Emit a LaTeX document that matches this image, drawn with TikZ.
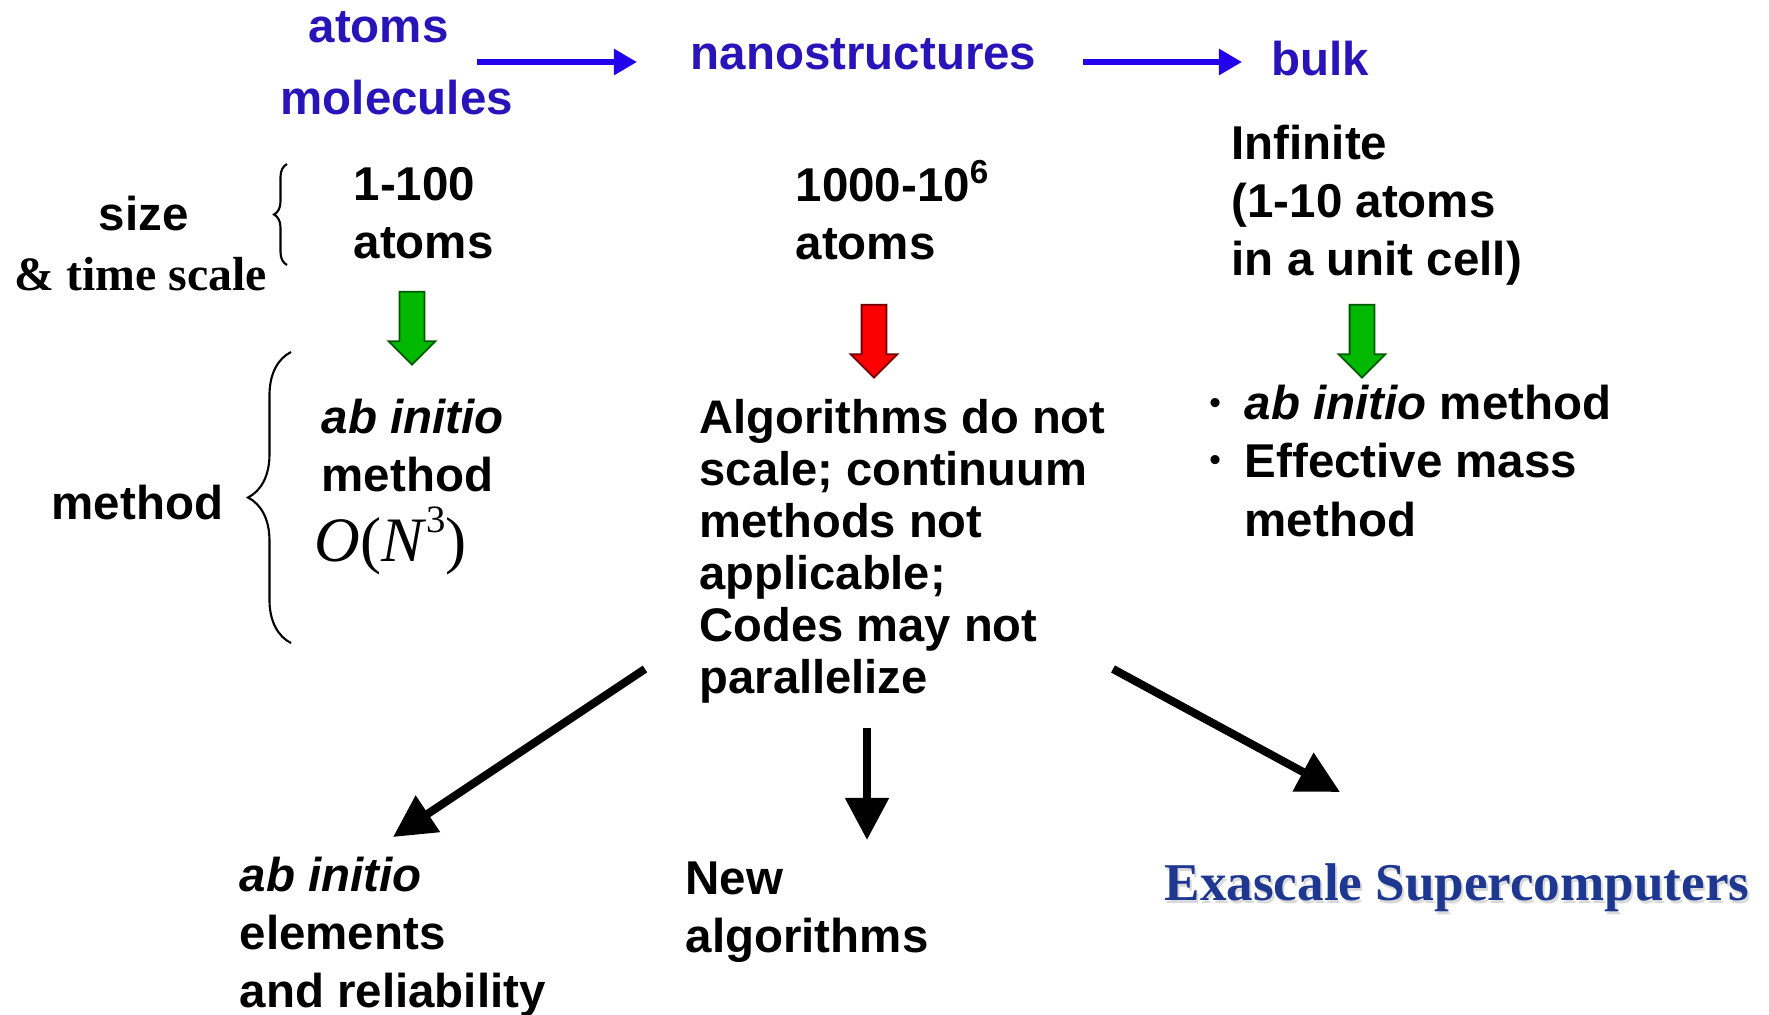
\documentclass[tikz,border=0pt]{standalone}
\usepackage{fontspec}
\setmainfont{Liberation Sans}
\newfontfamily\timesfont{Liberation Serif}
\usetikzlibrary{arrows.meta,shapes.arrows,decorations.pathreplacing}

\definecolor{headblue}{RGB}{40,20,185}
\definecolor{linkblue}{RGB}{35,0,235}
\definecolor{exablue}{RGB}{30,55,145}
\definecolor{okgreen}{RGB}{0,185,0}
\definecolor{badred}{RGB}{250,0,0}

\tikzset{
  txt/.style={font=\fontsize{13.5}{16.5}\selectfont\bfseries, align=left, inner sep=0pt, anchor=west},
  headline/.style={txt, text=headblue},
  serif/.style={font=\fontsize{13.6}{16}\selectfont\timesfont\bfseries, inner sep=0pt, anchor=west},
  link/.style={draw=linkblue, line width=1.6pt, -{Triangle[length=0.23cm,width=0.25cm]}},
  bigarrow/.style={line width=2.3pt, -{Triangle[length=0.42cm,width=0.42cm]}},
  block/.style={single arrow, rotate=-90, inner xsep=0pt, inner ysep=0.115cm,
    single arrow head extend=0.11cm, minimum height=0.73cm, line width=0.5pt},
  bracket/.style={decorate, line width=0.6pt}
}

\begin{document}
\begin{tikzpicture}[x=0.01cm, y=-0.01cm]
\useasboundingbox (0,0) rectangle (1769,1014);

% scales across the top
\node[headline] (atoms) at (308,27) {atoms};
\node[headline] (molec) at (280,98) {molecules};
\node[headline] (nano) at (690,54) {nanostructures};
\node[headline] (bulk) at (1271,59) {bulk};
\coordinate (a0) at (477,62);
\coordinate (a1) at (637,62);
\coordinate (b0) at (1083,62);
\coordinate (b1) at (1242,62);
\draw[link] (a0) -- (a1);
\draw[link] (b0) -- (b1);

% size row
\node[txt] (size) at (98,214) {size};
\node[serif] (time) at (14,274) {\& time scale};
\draw[bracket, decoration={brace, amplitude=0.13cm}] (287,265) -- (287,164);
\node[txt] (small) at (353,213) {1-100\\atoms};
\node[txt] (medium) at (795,210) {1000-10\textsuperscript{6}\\atoms};
\node[txt] (large) at (1231,205) {Infinite\\(1-10 atoms\\in a unit cell)};

% block arrows
\node[block, fill=okgreen, draw=green!35!black] (g1) at (412,322) {};
\node[block, fill=badred, draw=red!45!black] (r1) at (874,335) {};
\node[block, fill=okgreen, draw=green!35!black] (g2) at (1362,335) {};

% method row
\node[txt] (method) at (51,503) {method};
\draw[bracket, decoration={brace, amplitude=0.43cm}] (291,643) -- (291,352);
\node[txt] (abin) at (321,446) {\textit{ab initio}\\method};
\node[anchor=west, inner sep=0pt, font=\fontsize{18}{20}\selectfont\timesfont] (order) at (314,541)
  {\textit{O}(\textit{N}\raisebox{0.45em}{\fontsize{11}{12}\selectfont 3})};
\node[txt, font=\fontsize{13.4}{14.8}\selectfont\bfseries] (algo) at (699,551)
  {Algorithms do not\\scale; continuum\\methods not\\applicable;\\Codes may not\\parallelize};
\node[txt, font=\fontsize{9}{10}\selectfont\bfseries] (dot1) at (1209,406) {\textbullet};
\node[txt, font=\fontsize{9}{10}\selectfont\bfseries] (dot2) at (1209,463) {\textbullet};
\node[txt] (bulkm) at (1244,461) {\textit{ab initio} method\\Effective mass\\method};

% what is needed
\coordinate (l0) at (645,669);
\coordinate (l1) at (393,837);
\coordinate (d0) at (867,728);
\coordinate (d1) at (867,840);
\coordinate (r0) at (1113,669);
\coordinate (r1) at (1340,792);
\draw[bigarrow] (l0) -- (l1);
\draw[bigarrow] (d0) -- (d1);
\draw[bigarrow] (r0) -- (r1);

\node[txt] (reliab) at (239,937) {\textit{ab initio}\\elements\\and reliability};
\node[txt] (newalg) at (685,912) {New\\algorithms};
\node[serif, font=\fontsize{15.1}{18}\selectfont\timesfont\bfseries, text=black!15] (exashadow) at (1166,891)
  {Exascale Supercomputers};
\node[serif, font=\fontsize{15.1}{18}\selectfont\timesfont\bfseries, text=exablue] (exa) at (1164,888)
  {Exascale Supercomputers};
\end{tikzpicture}
\end{document}
